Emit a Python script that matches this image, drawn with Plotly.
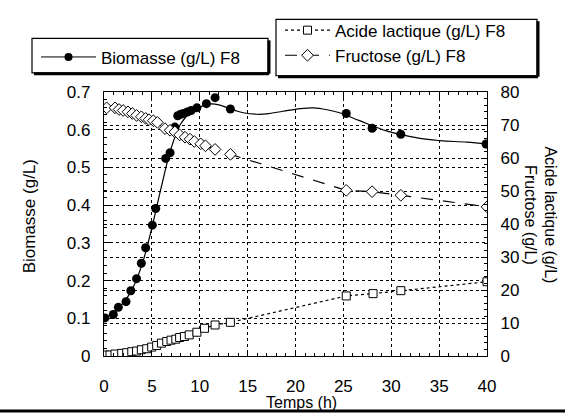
import plotly.graph_objects as go

# ---- data ----
bio_t = [0.1, 0.97, 1.5, 2.3, 2.8, 3.4, 3.9, 4.35, 5.05, 5.4, 6.44, 6.9, 7.4, 7.7,
         8.0, 8.3, 8.7, 9.1, 9.7, 10.7, 11.6, 13.2, 25.3, 28.0, 31.0, 39.9]
bio_v = [0.101, 0.110, 0.129, 0.144, 0.173, 0.205, 0.246, 0.287, 0.347, 0.391, 0.524,
         0.539, 0.607, 0.637, 0.641, 0.643, 0.647, 0.651, 0.658, 0.669, 0.685, 0.655,
         0.643, 0.604, 0.588, 0.562]

# smooth fitted curve drawn through the biomass data
fit_t = [0, 1, 2, 3, 4, 5, 6, 7, 8, 9, 10, 11, 12, 13.2, 14.55, 15.95, 17.0, 18.7,
         20.5, 21.9, 23.3, 24.6, 26.7, 29.5, 33.0, 35.1, 37.9, 40]
fit_v = [0.10, 0.115, 0.14, 0.18, 0.245, 0.34, 0.45, 0.55, 0.615, 0.645, 0.66, 0.668,
         0.666, 0.655, 0.645, 0.641, 0.642, 0.649, 0.656, 0.658, 0.653, 0.645, 0.624,
         0.597, 0.577, 0.571, 0.567, 0.562]

fru_t = [0.28, 1.15, 1.57, 2.0, 2.5, 2.96, 3.4, 3.9, 4.35, 4.7, 5.15, 5.57, 6.37, 6.9,
         7.4, 7.9, 8.46, 8.98, 9.43, 10.1, 10.6, 11.6, 13.2, 25.3, 28.0, 31.0, 40.0]
fru_v = [75.2, 75.2, 74.7, 74.4, 74.0, 73.5, 72.9, 72.5, 72.0, 71.6, 71.3, 70.8, 68.9,
         68.4, 67.9, 67.0, 66.3, 65.7, 65.0, 64.3, 63.7, 62.6, 61.1, 50.2, 49.8, 48.7,
         45.2]

lac_t = [0.1, 0.63, 1.15, 1.85, 2.37, 2.9, 3.4, 3.9, 4.46, 4.98, 5.5, 6.0, 6.55, 7.0,
         7.5, 7.9, 8.4, 8.9, 9.7, 10.5, 11.6, 13.2, 25.3, 28.1, 31.0, 40.0]
lac_v = [0.3, 0.3, 0.6, 0.8, 1.0, 1.3, 1.5, 1.9, 2.2, 2.7, 3.2, 3.9, 4.4, 4.8, 5.1,
         5.6, 5.9, 6.4, 7.2, 8.4, 9.4, 10.2, 18.2, 18.9, 19.8, 22.5]

x_ticks = [0, 5, 10, 15, 20, 25, 30, 35, 40]
y1_ticks = [0, 0.1, 0.2, 0.3, 0.4, 0.5, 0.6, 0.7]
y1_text = ["0", "0.1", "0.2", "0.3", "0.4", "0.5", "0.6", "0.7"]
y2_ticks = [0, 10, 20, 30, 40, 50, 60, 70, 80]

FONT = "Liberation Sans, Arial, sans-serif"
FS = 17

W, H = 565, 415
L, R, T, B = 104, 78, 80, 59
PW, PH = W - L - R, H - T - B


def px(x):
    return (x - L) / PW


def py(y):
    return (H - B - y) / PH


fig = go.Figure()

fig.add_trace(go.Scatter(x=fit_t, y=fit_v, mode="lines",
                         line=dict(color="black", width=1.2, shape="spline", smoothing=1.0),
                         showlegend=False, hoverinfo="skip"))
fig.add_trace(go.Scatter(x=bio_t, y=bio_v, mode="markers",
                         marker=dict(symbol="circle", size=9, color="black"),
                         showlegend=False))
fig.add_trace(go.Scatter(x=[None], y=[None], mode="lines+markers", name="Biomasse (g/L) F8",
                         line=dict(color="black", width=1),
                         marker=dict(symbol="circle", size=8, color="black"),
                         legend="legend"))

fig.add_trace(go.Scatter(x=lac_t, y=lac_v, yaxis="y2", mode="lines+markers",
                         name="Acide lactique (g/L) F8",
                         line=dict(color="black", width=1.2, dash="dot"),
                         marker=dict(symbol="square", size=8, color="white",
                                     line=dict(color="black", width=1)),
                         legend="legend2"))
fig.add_trace(go.Scatter(x=fru_t, y=fru_v, yaxis="y2", mode="lines+markers",
                         name="Fructose (g/L) F8",
                         line=dict(color="black", width=1.2, dash="12px,10px"),
                         marker=dict(symbol="diamond", size=9, color="white",
                                     line=dict(color="black", width=1)),
                         legend="legend2"))

axis_common = dict(
    showline=True, linecolor="black", linewidth=1.2,
    ticks="inside", ticklen=6, tickcolor="black", tickwidth=1,
    showgrid=True, gridcolor="black", gridwidth=1, griddash="dot",
    zeroline=False,
    tickfont=dict(family=FONT, size=FS, color="black"),
)

fig.update_layout(
    width=W, height=H,
    margin=dict(l=L, r=R, t=T, b=B),
    paper_bgcolor="white", plot_bgcolor="white",
    font=dict(family=FONT, size=FS, color="black"),
    xaxis=dict(range=[0, 40], tickvals=x_ticks, mirror="ticks",
               minor=dict(ticks="inside", ticklen=3, dtick=1, tickcolor="black", showgrid=False),
               ticklabelstandoff=14, **axis_common),
    yaxis=dict(range=[0, 0.7], tickvals=y1_ticks, ticktext=y1_text,
               minor=dict(ticks="inside", ticklen=3, dtick=0.02, tickcolor="black", showgrid=False),
               ticklabelstandoff=9, **axis_common),
    yaxis2=dict(range=[0, 80], tickvals=y2_ticks, overlaying="y", side="right",
                minor=dict(ticks="inside", ticklen=3, dtick=2, tickcolor="black", showgrid=False),
                ticklabelstandoff=9, **axis_common),
    legend=dict(x=px(36), y=py(25), xanchor="left", yanchor="top",
                bgcolor="rgba(0,0,0,0)", borderwidth=0, itemwidth=55,
                font=dict(family=FONT, size=FS, color="black"), tracegroupgap=0),
    legend2=dict(x=px(280), y=py(-3), xanchor="left", yanchor="top",
                 bgcolor="rgba(0,0,0,0)", borderwidth=0, itemwidth=45,
                 font=dict(family=FONT, size=FS, color="black"), tracegroupgap=0),
    showlegend=True,
)

# axis titles
fig.add_annotation(xref="paper", yref="paper", x=px(301), y=py(405),
                   text="Temps (h)", showarrow=False,
                   font=dict(family=FONT, size=16, color="black"),
                   xanchor="center", yanchor="middle")
fig.add_annotation(xref="paper", yref="paper", x=px(29), y=py(210),
                   text="Biomasse (g/L)", textangle=-90, showarrow=False,
                   font=dict(family=FONT, size=FS, color="black"),
                   xanchor="center", yanchor="middle")
fig.add_annotation(xref="paper", yref="paper", x=px(540), y=py(208),
                   text="Acide lactique (g/L)<br>Fructose (g/L)", textangle=90,
                   showarrow=False, font=dict(family=FONT, size=16, color="black"),
                   xanchor="center", yanchor="middle")

# legend frames with drop shadow
shapes = []
for (x0, y0, x1, y1) in [(32, 24, 268, 60), (276, 4, 537, 63)]:
    shapes.append(dict(type="rect", xref="paper", yref="paper",
                       x0=px(x0), x1=px(x1), y0=py(y1), y1=py(y0),
                       line=dict(color="black", width=1.2)))
    shapes.append(dict(type="line", xref="paper", yref="paper",
                       x0=px(x1 + 1), x1=px(x1 + 1), y0=py(y1 + 1), y1=py(y0 + 2),
                       line=dict(color="black", width=3)))
    shapes.append(dict(type="line", xref="paper", yref="paper",
                       x0=px(x0 + 2), x1=px(x1 + 1), y0=py(y1 + 1), y1=py(y1 + 1),
                       line=dict(color="black", width=3)))
# scan edge at the bottom of the page
shapes.append(dict(type="line", xref="paper", yref="paper",
                   x0=px(0), x1=px(565), y0=py(413.5), y1=py(413.5),
                   line=dict(color="black", width=3)))
fig.update_layout(shapes=shapes)

fig.write_html("out.html", config={"displayModeBar": False},
               post_script="document.body.style.margin='0';document.body.style.padding='0';")
